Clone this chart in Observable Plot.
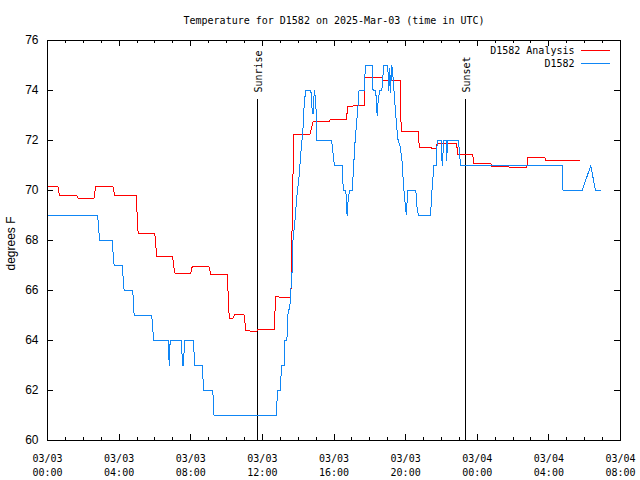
<!DOCTYPE html>
<html>
<head>
<meta charset="utf-8">
<script src="https://cdn.jsdelivr.net/npm/d3@7"></script>
<script src="https://cdn.jsdelivr.net/npm/@observablehq/plot@0.6"></script>
<style>
html, body { margin: 0; padding: 0; background: #fff; }
</style>
</head>
<body>
<div id="chart"></div>
<script>
// ---- data (hours since 2025-03-03 00:00 UTC, degrees F) ----
const analysisHours = [0.00,0.59,0.67,1.62,1.71,2.60,2.69,3.66,3.75,4.95,5.06,5.99,6.10,6.99,7.10,8.00,8.08,9.01,9.12,10.04,10.15,10.35,10.46,10.97,11.08,11.69,11.75,12.66,12.74,13.59,13.75,14.66,14.83,15.72,15.78,16.69,16.77,17.69,17.73,18.70,18.74,19.71,19.75,20.72,20.76,21.43,21.48,21.69,21.76,22.84,22.92,23.74,23.82,24.76,24.81,25.76,25.82,26.77,26.83,27.78,27.83,29.72];
const analysisTemps = [70.15,70.15,69.8,69.8,69.7,69.7,70.15,70.15,69.8,69.8,68.3,68.3,67.35,67.35,66.7,66.7,66.95,66.95,66.65,66.65,64.9,64.9,65.05,65.05,64.4,64.35,64.45,64.45,65.75,65.7,72.25,72.25,72.75,72.75,72.83,72.83,73.37,73.4,74.52,74.52,74.42,74.42,72.36,72.36,71.71,71.71,71.67,71.67,71.89,71.89,71.44,71.44,71.07,71.07,70.96,70.96,70.92,70.92,71.32,71.32,71.2,71.2];

const stationHours = [0,2.80,2.91,3.61,3.72,4.17,4.28,4.76,4.84,5.82,5.93,6.74,6.80,6.85,7.48,7.54,7.59,7.66,8.15,8.22,8.63,8.73,9.23,9.30,12.77,12.85,13.00,13.07,13.22,13.26,13.37,13.41,13.54,13.59,13.68,13.71,13.82,13.93,14.04,14.15,14.27,14.34,14.42,14.71,14.77,14.83,14.90,14.98,15.05,15.87,16.02,16.46,16.52,16.66,16.73,16.80,16.88,17.02,17.10,17.16,17.25,17.33,17.40,17.70,17.75,18.14,18.18,18.33,18.41,18.48,18.56,18.67,18.78,19.00,19.06,19.12,19.15,19.23,19.30,19.37,19.45,19.56,19.68,19.79,19.86,19.93,20.04,20.12,20.57,20.64,20.72,21.39,21.47,21.58,21.73,21.76,22.00,22.04,22.14,22.26,22.29,22.35,22.95,23.07,28.74,28.79,29.86,30.34,30.60,30.86];
const stationTemps = [69,69,68,68,67,67,66,66,65,65,64,64,63,64,64,63,63,64,64,63,63,62,62,61,61,62,62,63,63,64,64,65,65.4,66,67,68,68.8,69.8,70.5,71.5,72.5,73.5,74,74,73.3,73.05,74,73.6,72,72,71,71,70,70,69,69.7,70,70,71,71.8,72.6,73.27,74,74,75,75,74,74,73,73.7,74,74,75,75,74,74.9,73.9,75,74.5,73.8,73,72.07,71.8,71.27,70.47,69.8,69.03,70,70,69.3,69,69,70,71,71,72,72,71,72,72,71.2,72,72,71,71,70,70,71,70,70];

const majorTickHours = [0,4,8,12,16,20,24,28,32];
const minorTickHours = [0,1,2,3,4,5,6,7,8,9,10,11,12,13,14,15,16,17,18,19,20,21,22,23,24,25,26,27,28,29,30,31,32];
const yTicks = [60,62,64,66,68,70,72,74,76];
const yDomain = [60, 76];

const eventNames = ["Sunrise", "Sunset"];
const eventHours = [11.73, 23.35];

const titleText = "Temperature for D1582 on 2025-Mar-03 (time in UTC)";
const yLabel = "degrees F";
const seriesNames = ["D1582 Analysis", "D1582"];
const seriesColors = ["#ff0000", "#0f86f5"];

// ---- build ----
const base = Date.UTC(2025, 2, 3);
const toDate = h => new Date(base + h * 3600000);
const analysis = analysisHours.map((h, i) => ({t: toDate(h), v: analysisTemps[i]}));
const station = stationHours.map((h, i) => ({t: toDate(h), v: stationTemps[i]}));
const events = eventNames.map((n, i) => ({t: toDate(eventHours[i]), name: n}));
const majors = majorTickHours.map(toDate);
const minors = minorTickHours.map(toDate);

const mono = "'DejaVu Sans Mono', 'Liberation Mono', monospace";
const sans = "'Liberation Sans', Arial, sans-serif";
const fmtD = d3.utcFormat("%m/%d"), fmtT = d3.utcFormat("%H:%M");

const chart = Plot.plot({
  width: 640,
  height: 480,
  marginLeft: 47,
  marginRight: 20,
  marginTop: 40,
  marginBottom: 40,
  style: {background: "#ffffff", color: "#000000"},
  x: {type: "utc", domain: [toDate(majorTickHours[0]), toDate(majorTickHours[majorTickHours.length - 1])]},
  y: {domain: yDomain},
  marks: [
    // event lines & labels
    Plot.ruleX(events, {x: "t", insetTop: 59, stroke: "#000", shapeRendering: "crispEdges"}),
    Plot.text(events, {x: "t", text: "name", frameAnchor: "top", dy: 52, dx: 1, rotate: -90, textAnchor: "start", lineAnchor: "middle", fontFamily: mono, fontSize: 10, fill: "#000"}),
    // data
    Plot.line(analysis, {x: "t", y: "v", stroke: seriesColors[0], strokeWidth: 1, shapeRendering: "crispEdges"}),
    Plot.line(station, {x: "t", y: "v", stroke: seriesColors[1], strokeWidth: 1, shapeRendering: "crispEdges"}),
    // frame and inward ticks
    Plot.frame({stroke: "#000", shapeRendering: "crispEdges"}),
    Plot.ruleX(minors, {insetTop: 397, stroke: "#000", shapeRendering: "crispEdges"}),
    Plot.ruleX(minors, {insetBottom: 397, stroke: "#000", shapeRendering: "crispEdges"}),
    Plot.ruleX(majors, {insetTop: 394, stroke: "#000", shapeRendering: "crispEdges"}),
    Plot.ruleX(majors, {insetBottom: 394, stroke: "#000", shapeRendering: "crispEdges"}),
    Plot.ruleY(yTicks, {insetRight: 567, stroke: "#000", shapeRendering: "crispEdges"}),
    Plot.ruleY(yTicks, {insetLeft: 567, stroke: "#000", shapeRendering: "crispEdges"}),
    // axes
    Plot.axisX({ticks: majors, tickSize: 0, tickPadding: 12, label: null, lineHeight: 1.4,
      tickFormat: d => fmtD(d) + "\n" + fmtT(d), fontFamily: mono, fontSize: 10, fill: "#000"}),
    Plot.axisY({ticks: yTicks, tickSize: 0, tickPadding: 9, label: null, fontFamily: sans, fontSize: 12, fill: "#000"}),
    // title and y label
    Plot.text([titleText], {frameAnchor: "top", dy: -20, lineAnchor: "middle", fontFamily: mono, fontSize: 10, fill: "#000"}),
    Plot.text([yLabel], {frameAnchor: "left", dx: -36, dy: 3, rotate: -90, textAnchor: "middle", lineAnchor: "middle", fontFamily: sans, fontSize: 12, fill: "#000"}),
    // legend
    Plot.text([seriesNames[0]], {frameAnchor: "top-right", dx: -46, dy: 10, textAnchor: "end", lineAnchor: "middle", fontFamily: mono, fontSize: 10, fill: "#000"}),
    Plot.text([seriesNames[1]], {frameAnchor: "top-right", dx: -46, dy: 23, textAnchor: "end", lineAnchor: "middle", fontFamily: mono, fontSize: 10, fill: "#000"}),
    Plot.ruleY([yDomain[1]], {dy: 9.5, insetLeft: 534, insetRight: 10, stroke: seriesColors[0], shapeRendering: "crispEdges"}),
    Plot.ruleY([yDomain[1]], {dy: 22.5, insetLeft: 534, insetRight: 10, stroke: seriesColors[1], shapeRendering: "crispEdges"})
  ]
});
document.getElementById("chart").appendChild(chart);
</script>
</body>
</html>
